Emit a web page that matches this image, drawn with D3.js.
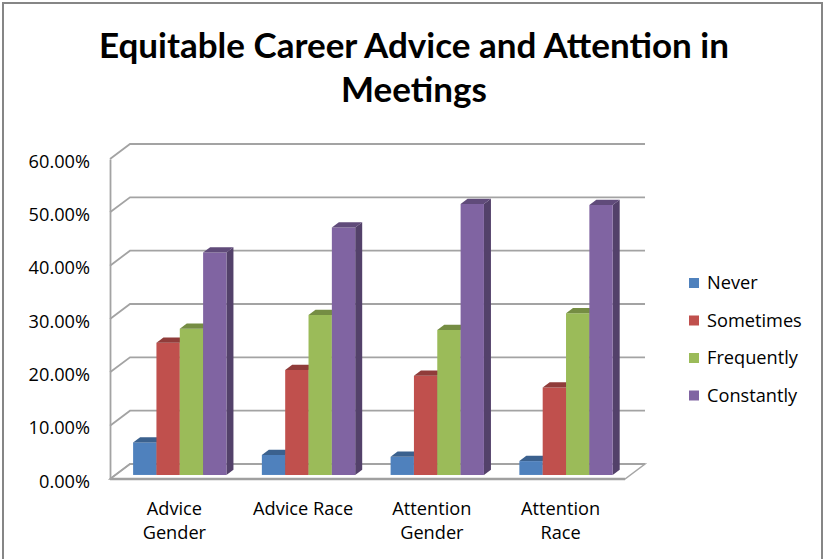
<!DOCTYPE html>
<html>
<head>
<meta charset="utf-8">
<script src="https://cdn.jsdelivr.net/npm/d3@7"></script>
<style>
  html, body { margin: 0; padding: 0; background: #fff; }
  svg { display: block; font-family: "Open Sans", Lato, sans-serif; }
</style>
</head>
<body>
<svg id="chart" width="825" height="559"></svg>
<script>
// ---- data ----
const categories = ["Advice Gender", "Advice Race", "Attention Gender", "Attention Race"];
const categoryLabelLines = [["Advice", "Gender"], ["Advice Race"], ["Attention", "Gender"], ["Attention", "Race"]];
const seriesNames = ["Never", "Sometimes", "Frequently", "Constantly"];
const never      = [0.061, 0.0375, 0.034, 0.026];
const sometimes  = [0.248, 0.197, 0.186, 0.164];
const frequently = [0.274, 0.300, 0.272, 0.303];
const constantly = [0.417, 0.464, 0.508, 0.506];
const seriesValues = [never, sometimes, frequently, constantly];
const yTicks = [0, 0.1, 0.2, 0.3, 0.4, 0.5, 0.6];
const titleLines = ["Equitable Career Advice and Attention in", "Meetings"];
const colors = ["#4F81BD", "#C0504D", "#9BBB59", "#8064A2"];

// ---- layout ----
const svg = d3.select("#chart");
const backLeft = 130, backRight = 645, backBottom = 464, backTop = 144;
const depthX = 20, depthY = 15;  // offset from back plane to front plane
const barFrontS = 0.73, barBackS = 0.38;
const labelFont = "'Open Sans', sans-serif", labelSize = 18.2;

// chart border
svg.append("rect").attr("x", 3).attr("y", 3).attr("width", 819).attr("height", 562)
  .attr("fill", "#fff").attr("stroke", "#868686").attr("stroke-width", 2);

// title
svg.append("g").selectAll("text").data(titleLines).join("text")
  .attr("x", 414).attr("y", (d, i) => 58 + i * 44)
  .attr("text-anchor", "middle").attr("font-family", "Lato, sans-serif")
  .attr("font-size", 35).attr("font-weight", "bold").attr("fill", "#000")
  .text(d => d);

// scales (on back plane)
const y = d3.scaleLinear().domain([0, 0.6]).range([backBottom, backTop]);
const x0 = d3.scaleBand().domain(categories).range([backLeft, backRight])
  .paddingInner(0.275).paddingOuter(0.1375);
const x1 = d3.scaleBand().domain(seriesNames).range([0, x0.bandwidth()]);

const P = (xb, yb, s) => [xb - depthX * s, yb + depthY * s];

// floor
const floorPts = [P(backLeft, y(0), 1), P(backRight, y(0), 1), P(backRight, y(0), 0), P(backLeft, y(0), 0)];
svg.append("path").attr("d", d3.line()(floorPts) + "Z")
  .attr("fill", "#fff").attr("stroke", "#a6a6a6").attr("stroke-width", 1.5);
svg.append("path").attr("d", d3.line()([P(backLeft, y(0), 1), P(backRight, y(0), 1)]))
  .attr("stroke", "#a0a0a0").attr("stroke-width", 2.5).attr("fill", "none");

// gridlines: front-left -> back-left -> back-right
svg.append("g").selectAll("path").data(yTicks).join("path")
  .attr("d", t => d3.line()([P(backLeft, y(t), 1), P(backLeft, y(t), 0), [backRight, y(t)]]))
  .attr("fill", "none").attr("stroke", "#a3a3a3").attr("stroke-width", 1.8);

// y axis (front left edge)
const yFront = d3.scaleLinear().domain(y.domain()).range(y.range().map(v => v + depthY));
const yAxis = svg.append("g").attr("transform", `translate(${backLeft - depthX},0)`)
  .call(d3.axisLeft(yFront).tickValues(yTicks).tickFormat(d3.format(".2%")).tickSize(0).tickSizeOuter(0).tickPadding(20));
yAxis.select(".domain").attr("stroke", "#a3a3a3").attr("stroke-width", 1.8);
yAxis.selectAll("text").attr("font-size", labelSize).attr("fill", "#000").attr("font-family", labelFont).attr("dy", "0.45em");

// bars
const barsG = svg.append("g");
categories.forEach((cat, ci) => {
  seriesNames.forEach((sn, si) => {
    const v = seriesValues[si][ci];
    const xb = x0(cat) + x1(sn), w = x1.bandwidth();
    const c = d3.color(colors[si]);
    const fTL = P(xb, y(v), barFrontS), fTR = P(xb + w, y(v), barFrontS);
    const fBR = P(xb + w, y(0), barFrontS), fBL = P(xb, y(0), barFrontS);
    const bTL = P(xb, y(v), barBackS), bTR = P(xb + w, y(v), barBackS);
    const bBR = P(xb + w, y(0), barBackS);
    barsG.append("path").attr("d", d3.line()([fTR, bTR, bBR, fBR]) + "Z")
      .attr("fill", c.darker(1.2)).attr("stroke", "none");
    barsG.append("path").attr("d", d3.line()([fTL, fTR, fBR, fBL]) + "Z")
      .attr("fill", c).attr("stroke", "none");
    barsG.append("path").attr("d", d3.line()([fTL, fTR, bTR, bTL]) + "Z")
      .attr("fill", c.darker(0.8)).attr("stroke", "none");
  });
});

// x labels (front plane)
const xl = svg.append("g");
categories.forEach((cat, ci) => {
  const cx = x0(cat) - (x0.step() * x0.paddingInner()) / 2 + x0.step() / 2 - depthX;
  xl.append("text").attr("x", cx).attr("text-anchor", "middle")
    .attr("font-size", labelSize).attr("fill", "#000")
    .selectAll("tspan").data(categoryLabelLines[ci]).join("tspan")
    .attr("x", cx).attr("y", (d, i) => 515 + i * 24).text(d => d);
});

// legend
const lg = svg.append("g").selectAll("g").data(seriesNames).join("g")
  .attr("transform", (d, i) => `translate(689, ${283 + i * 37.5})`);
lg.append("rect").attr("x", 0).attr("y", -5).attr("width", 10).attr("height", 10)
  .attr("fill", (d, i) => colors[i]);
lg.append("text").attr("x", 18).attr("y", 6).attr("font-size", labelSize).attr("fill", "#000").text(d => d);
</script>
</body>
</html>
